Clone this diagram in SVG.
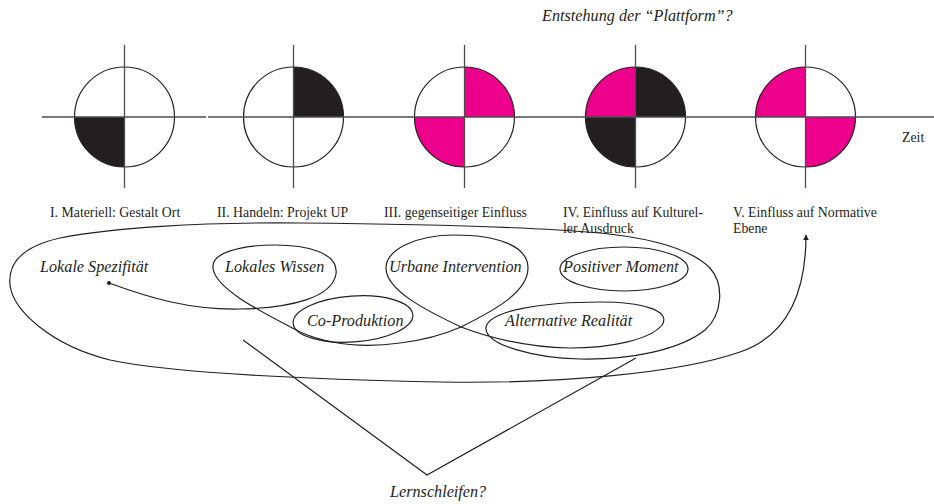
<svg xmlns="http://www.w3.org/2000/svg" width="934" height="504" viewBox="0 0 934 504">
<style>
.bk{fill:#231f20}
.mg{fill:#ec008c}
.ring{fill:none;stroke:#231f20;stroke-width:1.2}
.axis{stroke:#4d4d4d;stroke-width:1.3;fill:none}
.lbl{font-family:"Liberation Serif",serif;font-size:13.8px;fill:#231f20}
.it{font-family:"Liberation Serif",serif;font-style:italic;font-size:16.2px;fill:#231f20}
.ln{fill:none;stroke:#231f20;stroke-width:1.2}
</style>
<defs>
<marker id="ah" viewBox="0 0 10 10" refX="9" refY="5" markerWidth="6" markerHeight="6" orient="auto" markerUnits="userSpaceOnUse">
<path d="M0,0 L10,5 L0,10 Z" fill="#231f20"/>
</marker>
</defs>
<rect width="934" height="504" fill="#fff"/>

<text class="it" x="542" y="21">Entstehung der “Plattform”?</text>

<g id="phase1">
<path class="bk" d="M124.5,117 L74.5,117 A50,50 0 0,0 124.5,167 Z"/>
<circle class="ring" cx="124.5" cy="117" r="50"/>
<text class="lbl" x="50" y="217">I. Materiell: Gestalt Ort</text>
</g>
<g id="phase2">
<path class="bk" d="M293.5,117 L293.5,67 A50,50 0 0,1 343.5,117 Z"/>
<circle class="ring" cx="293.5" cy="117" r="50"/>
<text class="lbl" x="217" y="217">II. Handeln: Projekt UP</text>
</g>
<g id="phase3">
<path class="mg" d="M464.5,117 L464.5,67 A50,50 0 0,1 514.5,117 Z"/>
<path class="mg" d="M464.5,117 L414.5,117 A50,50 0 0,0 464.5,167 Z"/>
<circle class="ring" cx="464.5" cy="117" r="50"/>
<text class="lbl" x="384" y="217">III. gegenseitiger Einfluss</text>
</g>
<g id="phase4">
<path class="mg" d="M635.5,117 L585.5,117 A50,50 0 0,1 635.5,67 Z"/>
<path class="bk" d="M635.5,117 L635.5,67 A50,50 0 0,1 685.5,117 Z"/>
<path class="bk" d="M635.5,117 L585.5,117 A50,50 0 0,0 635.5,167 Z"/>
<circle class="ring" cx="635.5" cy="117" r="50"/>
<text class="lbl" x="563" y="217">IV. Einfluss auf Kulturel-</text>
<text class="lbl" x="563" y="233">ler Ausdruck</text>
</g>
<g id="phase5">
<path class="mg" d="M805.5,117 L755.5,117 A50,50 0 0,1 805.5,67 Z"/>
<path class="mg" d="M805.5,117 L855.5,117 A50,50 0 0,1 805.5,167 Z"/>
<circle class="ring" cx="805.5" cy="117" r="50"/>
<text class="lbl" x="733" y="217">V. Einfluss auf Normative</text>
<text class="lbl" x="733" y="233">Ebene</text>
</g>

<g id="axes">
<path class="axis" d="M42,117 H206 M208,117 H934"/>
<path class="axis" d="M124.5,45 V188 M293.5,45 V188 M464.5,45 V188 M635.5,45 V188 M805.5,45 V188"/>
<text class="lbl" x="902" y="142">Zeit</text>
</g>

<g id="concepts">
<text class="it" x="40" y="272">Lokale Spezifität</text>
<text class="it" x="225" y="272">Lokales Wissen</text>
<text class="it" x="389" y="272">Urbane Intervention</text>
<text class="it" x="563" y="272">Positiver Moment</text>
<text class="it" x="307" y="326">Co-Produktion</text>
<text class="it" x="505" y="326">Alternative Realität</text>
<text class="it" x="390" y="497">Lernschleifen?</text>
</g>

<g id="connectors">
<circle cx="109" cy="283" r="2" fill="#231f20"/>
<path class="ln" marker-end="url(#ah)" d="M109,283 C150,298 190,310 240,309 C290,308 332,298 336,274 C339,252 305,245 275,245 C240,245 211,253 213,268 C215,290 268,315 300,332 C330,345 365,348 400,343 C425,340 445,334 461,327 C495,310 528,292 528,268 C528,245 495,235 455,235 C415,235 386,250 386,268 C386,290 425,310 461,327 C490,338 525,347 570,348 C610,348 650,340 662,325 C672,310 640,302 600,302 C545,302 490,310 486,327 C484,345 535,358 580,359 C630,360 680,350 705,330 C722,315 725,285 710,268 C690,248 650,238 600,233 C520,226 420,224 300,223 C200,222 110,228 60,238 C20,247 8,265 10,285 C13,310 50,345 110,360 C170,373 300,379 440,382 C560,384 680,373 740,352 C790,335 806,290 806,235"/>
<ellipse class="ln" cx="353" cy="319" rx="60" ry="23" transform="rotate(-4 353 319)"/>
<ellipse class="ln" cx="624" cy="269" rx="64" ry="22"/>
<path class="ln" d="M243,340 L427,475 L636,358"/>
</g>
</svg>
